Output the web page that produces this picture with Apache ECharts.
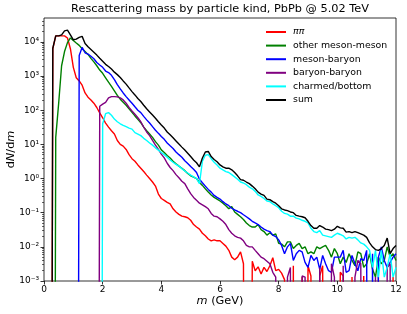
<!DOCTYPE html>
<html><head><meta charset="utf-8">
<script src="https://cdn.jsdelivr.net/npm/echarts@6/dist/echarts.min.js"></script>
<style>html,body{margin:0;padding:0;background:#fff}#c{width:407px;height:314px}</style>
</head><body><div id="c"></div>
<script>
// bin centres, 0.0 ... 12.0 GeV in 0.1 GeV steps
const masses = Array.from({length: 121}, (_, i) => +(i * 0.1).toFixed(1));

const pipi = [
 0,0,0,6300,15000,15000,15000,15000,13000,6300,
 1800,890,720,540,320,240,200,160,120,83,
 60,42,32,25,20,13,10,8.9,7.1,5.0,
 3.8,3.2,2.5,2.0,1.6,1.26,1.0,0.79,0.60,0.35,
 0.26,0.23,0.20,0.18,0.13,0.105,0.089,0.079,0.076,0.071,
 0.060,0.045,0.038,0.033,0.025,0.021,0.017,0.015,0.016,0.015,
 0.015,0.0126,0.0105,0.0079,0.0050,0.0042,0.0050,0.0071,0.0032,0,
 0,0.0038,0.0020,0.0026,0.0016,0.0025,0.0019,0.0028,0.0048,0.0020,
 0.0022,0.0017,0.0011,0,0,0.0028,0,0,0.0013,0,
 0.0028,0.0014,0,0,0.0014,0.0028,0,0,0,0,
 0,0.0018,0.0014,0,0,0.0013,0,0,0,0.0014,
 0,0,0,0,0.0013,0,0,0,0,0.0013,
 0];

const otherMesonMeson = [
 0,0,0,0,16,160,2000,5200,9500,13000,
 11000,9300,7900,6300,5200,4300,3300,2600,2000,1500,
 1200,890,660,500,370,270,210,170,140,110,
 87,68,54,43,32,25,20,16,12,9.5,
 6.9,5.8,4.7,4.0,3.2,2.7,2.3,2.0,1.7,1.4,
 1.2,1.1,1.0,0.76,0.63,0.50,0.40,0.33,0.28,0.25,
 0.22,0.19,0.16,0.13,0.15,0.105,0.089,0.076,0.063,0.050,
 0.042,0.038,0.038,0.045,0.032,0.028,0.022,0.026,0.022,0.024,
 0.0126,0.012,0.010,0.014,0.014,0.0089,0.011,0.0126,0.0089,0.010,
 0.0063,0.0071,0.0063,0.010,0.0089,0.010,0.011,0.0079,0.0050,0.0089,
 0.0063,0.0032,0.0050,0.0035,0.0063,0.0040,0.0028,0.0071,0.0063,0.0025,
 0.0032,0.0063,0.0022,0.0013,0.0050,0.0032,0.0040,0.010,0.0050,0.0063,
 0.0040];

const mesonBaryon = [
 0,0,0,0,0,0,0,0,0,0,
 0,0,4000,6900,4800,4400,3800,3200,2500,2100,
 1800,1400,1260,1050,790,560,420,320,250,200,
 160,126,100,85,66,52,42,33,26,21,
 17,14,11,9.1,7.6,6.0,5.0,4.2,3.3,2.75,
 2.24,1.86,1.5,0.95,0.75,0.6,0.48,0.40,0.32,0.28,
 0.25,0.21,0.18,0.16,0.135,0.12,0.11,0.10,0.087,0.076,
 0.066,0.056,0.050,0.045,0.038,0.033,0.030,0.028,0.022,0.020,
 0.016,0.011,0.0063,0.010,0.0126,0.0040,0.0063,0.0079,0.0071,0.0035,
 0.0025,0.0056,0.0040,0.0050,0.0022,0.0056,0.0032,0.0020,0.0018,0.0050,
 0.0050,0.0050,0.0079,0.0018,0.0020,0.0056,0.0032,0.0020,0.0045,0.0040,
 0.0079,0,0.0063,0,0.0050,0.010,0.0040,0.0025,0.0035,0.0050,
 0.0063];

const baryonBaryon = [
 0,0,0,0,0,0,0,0,0,0,
 0,0,0,0,0,0,0,0,0,130,
 150,170,230,250,250,245,230,200,160,120,
 95,76,60,46,32,23,18,13,9.5,7.1,
 5.2,4.0,2.8,2.1,1.7,1.3,1.05,0.83,0.71,0.50,
 0.36,0.28,0.23,0.19,0.17,0.15,0.13,0.095,0.079,0.076,
 0.066,0.056,0.045,0.032,0.025,0.021,0.019,0.018,0.015,0.011,
 0.010,0.010,0.0079,0.0063,0.0050,0.0045,0.0038,0.0032,0.0018,0.0013,
 0,0,0,0.0013,0.0025,0,0,0,0.0014,0.0013,
 0,0,0,0,0.0025,0,0,0,0.0032,0.0013,
 0,0,0.0028,0,0,0,0.0013,0.0040,0.0032,0,
 0,0,0,0.0013,0,0,0,0.0025,0.0032,0,
 0];

const charmedBottom = [
 0,0,0,0,0,0,0,0,0,0,
 0,0,0,0,0,0,0,0,0,0,
 40,79,85,71,55,46,40,36,33,30,
 28,22,20,18,15,13,11,9.5,7.9,6.8,
 5.8,5.0,4.2,3.5,3.0,2.6,2.3,1.95,1.66,1.45,
 1.26,1.12,1.0,0.71,3.2,4.8,5.0,3.8,3.0,2.5,
 2.0,1.8,1.6,1.5,1.3,1.12,0.95,0.79,0.74,0.66,
 0.56,0.50,0.42,0.33,0.30,0.26,0.22,0.21,0.18,0.16,
 0.14,0.11,0.095,0.091,0.079,0.079,0.069,0.066,0.060,0.056,
 0.050,0.035,0.028,0.026,0.030,0.022,0.021,0.020,0.019,0.022,
 0.025,0.023,0.021,0.017,0.019,0.018,0.019,0.016,0.013,0.012,
 0.010,0.0079,0.0025,0.0079,0.0013,0.0079,0.0013,0.0025,0.0063,0.0013,
 0.0025];

const sumAll = [
 0,0,0,6500,15000,15000,16000,21000,22000,16000,
 11500,12000,13500,14500,9000,7200,6000,5000,4100,3300,
 2700,2200,1900,1600,1300,1100,910,720,580,450,
 350,280,220,180,140,110,89,72,58,46,
 37,30,23,19,15.5,12.6,10.2,8.3,6.8,5.5,
 4.4,3.5,2.9,2.2,4.0,6.0,6.2,4.4,3.6,3.1,
 2.5,2.2,2.0,2.0,1.8,1.5,1.2,0.93,0.89,0.79,
 0.71,0.60,0.50,0.40,0.35,0.32,0.25,0.24,0.21,0.19,
 0.16,0.13,0.12,0.115,0.105,0.10,0.083,0.079,0.076,0.071,
 0.056,0.042,0.035,0.035,0.042,0.038,0.033,0.032,0.030,0.033,
 0.040,0.036,0.035,0.027,0.028,0.026,0.028,0.026,0.024,0.022,
 0.019,0.013,0.010,0.0083,0.0079,0.0089,0.011,0.018,0.0063,0.0089,
 0.011];

const seriesNames = ['ππ', 'other meson-meson', 'meson-baryon', 'baryon-baryon', 'charmed/bottom', 'sum'];
const seriesValues = [pipi, otherMesonMeson, mesonBaryon, baryonBaryon, charmedBottom, sumAll];
const seriesColors = ['#ff0000', '#008000', '#0000ff', '#800080', '#00ffff', '#000000'];

const xTickValues = [0, 2, 4, 6, 8, 10, 12];
const yTickValues = [0.001, 0.01, 0.1, 1, 10, 100, 1000, 10000];
const yTickLabels = ['10⁻³', '10⁻²', '10⁻¹', '10⁰', '10¹', '10²', '10³', '10⁴'];

const FONT = 'DejaVu Sans';
const yMin = 0.001, yMax = 50000;

const minorVals = [];
for (let k = -3; k <= 4; k++) for (let j = 2; j <= 9; j++) {
  const v = j * Math.pow(10, k);
  if (v < yMax) minorVals.push(v);
}

const chart = echarts.init(document.getElementById('c'), null, {renderer: 'canvas'});
chart.setOption({
  animation: false,
  backgroundColor: '#fff',
  title: {
    text: 'Rescattering mass by particle kind, PbPb @ 5.02 TeV',
    left: 220, top: 3.5, padding: 0, textAlign: 'center',
    textStyle: {fontFamily: FONT, fontSize: 11.3, fontWeight: 'normal', color: '#000'}
  },
  grid: {left: 44, right: 11, top: 18, bottom: 33, containLabel: false, outerBoundsMode: 'none',
    show: true, borderColor: '#000', borderWidth: 0.8, backgroundColor: 'transparent'},
  legend: {
    orient: 'vertical', left: 265, top: 27, padding: 0,
    itemWidth: 20, itemHeight: 10, itemGap: 3.6,
    data: seriesNames,
    itemStyle: {opacity: 0, borderWidth: 0},
    formatter: n => n === 'ππ' ? '{i|ππ}' : n,
    textStyle: {fontFamily: FONT, fontSize: 9.4, color: '#000', lineHeight: 10, padding: [0, 0, 0, 2],
      rich: {i: {fontFamily: FONT, fontSize: 9.4, fontStyle: 'italic', color: '#000', lineHeight: 10}}}
  },
  xAxis: {
    type: 'value', min: 0, max: 12, interval: 2,
    axisLine: {show: false},
    axisTick: {show: true, length: 3.5, customValues: xTickValues, lineStyle: {color: '#000', width: 0.8}},
    axisLabel: {fontFamily: FONT, fontSize: 9, color: '#000', margin: 4, customValues: xTickValues},
    splitLine: {show: false},
    name: '{i|m} (GeV)', nameLocation: 'middle', nameGap: 15, nameMoveOverlap: false,
    nameTextStyle: {fontFamily: FONT, fontSize: 11.3, color: '#000',
      rich: {i: {fontFamily: FONT, fontSize: 11.3, fontStyle: 'italic', color: '#000'}}}
  },
  yAxis: [{
    type: 'log', logBase: 10, min: yMin, max: yMax, splitNumber: 8, position: 'left',
    axisLine: {show: false},
    axisTick: {show: true, length: 3.5, customValues: yTickValues, lineStyle: {color: '#000', width: 0.8}},
    axisLabel: {fontFamily: FONT, fontSize: 9, color: '#000', margin: 5, customValues: yTickValues,
      formatter: v => yTickLabels[Math.round(Math.log10(v)) + 3]},
    splitLine: {show: false},
    name: '{n|d}{i|N}{n|/d}{i|m}', nameLocation: 'middle', nameGap: 27, nameMoveOverlap: false,
    nameTextStyle: {fontFamily: FONT, fontSize: 11.3, color: '#000',
      rich: {n: {fontFamily: FONT, fontSize: 11.3, color: '#000'},
             i: {fontFamily: FONT, fontSize: 11.3, fontStyle: 'italic', color: '#000'}}}
  }, {
    type: 'log', logBase: 10, min: yMin, max: yMax, position: 'left',
    axisLine: {show: false},
    axisTick: {show: true, length: 2, customValues: minorVals, lineStyle: {color: '#000', width: 0.6}},
    axisLabel: {show: false},
    splitLine: {show: false}
  }],
  series: seriesNames.map((name, k) => ({
    type: 'line', name, yAxisIndex: 0, symbol: 'none', clip: true,
    lineStyle: {width: 1.4, color: seriesColors[k]},
    itemStyle: {color: seriesColors[k]},
    z: 2 + k,
    data: masses.map((m, i) => [m, seriesValues[k][i] > 0 ? seriesValues[k][i] : 1e-30])
  }))
});
</script></body></html>
